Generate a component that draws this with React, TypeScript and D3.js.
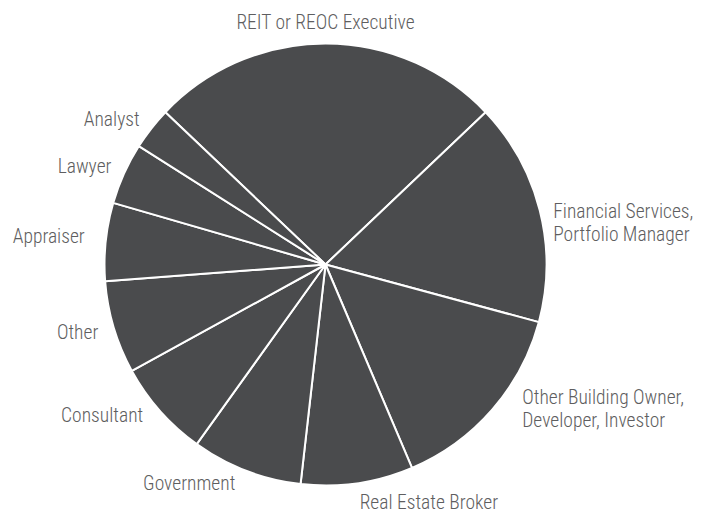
import React, { useEffect, useRef } from "react";
import * as d3 from "d3";

const categories = [
  "REIT or REOC Executive",
  "Financial Services,\nPortfolio Manager",
  "Other Building Owner,\nDeveloper, Investor",
  "Real Estate Broker",
  "Government",
  "Consultant",
  "Other",
  "Appraiser",
  "Lawyer",
  "Analyst",
];
const shares = [25.8, 16.3, 14.4, 8.2, 8.1, 7.1, 6.8, 5.7, 4.5, 3.1];

// label layout nudges (px), separate from data
const labelNudgeX = [0, -2, 18, 0, -5, -5, 0, -5, 2, 1];
const labelNudgeY = [-6, 16, -12, 3, -3, -7, 0, -4, -1, 0];

const W = 709;
const H = 513;
const CX = 325.5;
const CY = 264.5;
const R = 221;
const LABEL_R = 237;
const FONT = "'Roboto Condensed', 'Liberation Sans Narrow', 'DejaVu Sans Condensed', sans-serif";

export default function App() {
  const ref = useRef<SVGSVGElement | null>(null);
  useEffect(() => {
    const svg = d3.select(ref.current);
    svg.selectAll("*").remove();
    const total = d3.sum(shares);
    const firstAngle = (shares[0] / total) * Math.PI * 2;
    const pie = d3
      .pie<number>()
      .sort(null)
      .value((d) => d)
      .startAngle(-firstAngle / 2)
      .endAngle(Math.PI * 2 - firstAngle / 2);
    const arcs = pie(shares);
    const arc = d3.arc<d3.PieArcDatum<number>>().innerRadius(0).outerRadius(R);
    const g = svg.append("g").attr("transform", `translate(${CX},${CY})`);
    g.selectAll("path")
      .data(arcs)
      .join("path")
      .attr("d", arc as any)
      .attr("fill", "#4a4b4d")
      .attr("stroke", "#ffffff")
      .attr("stroke-width", 2)
      .attr("stroke-linejoin", "round");

    const lineH = 23;
    const fs = 19.5;
    arcs.forEach((a, i) => {
      const mid = (a.startAngle + a.endAngle) / 2;
      const sx = Math.sin(mid);
      const x = LABEL_R * sx + labelNudgeX[i];
      const yMid = -LABEL_R * Math.cos(mid) + labelNudgeY[i];
      const anchor = Math.abs(sx) < 0.1 && Math.cos(mid) > 0 ? "middle" : sx > 0 ? "start" : "end";
      const lines = categories[i].split("\n");
      const y0 = yMid - ((lines.length - 1) * lineH) / 2 + fs * 0.36;
      const t = g
        .append("text")
        .attr("text-anchor", anchor)
        .attr("font-family", FONT)
        .attr("font-size", fs)
        .attr("font-weight", 300)
        .attr("fill", "#5e5e60");
      lines.forEach((l, j) => {
        t.append("tspan").attr("x", x).attr("y", y0 + j * lineH).text(l);
      });
    });
  }, []);
  return (
    <div style={{ position: "absolute", left: 0, top: 0 }}>
      <svg ref={ref} width={W} height={H} style={{ display: "block", background: "#fff" }} />
    </div>
  );
}
